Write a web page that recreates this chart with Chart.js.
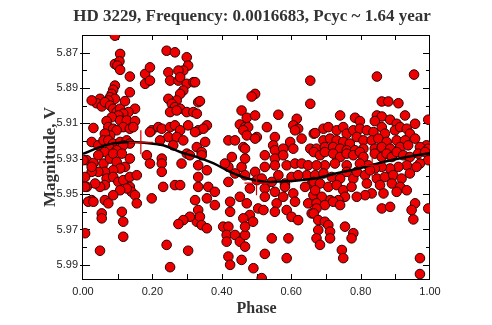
<!DOCTYPE html>
<html>
<head>
<meta charset="utf-8">
<script src="https://cdn.jsdelivr.net/npm/chart.js@4"></script>
<style>
  html, body { margin: 0; padding: 0; background: #fff; }
  #wrap { width: 492px; height: 325px; }
</style>
</head>
<body>
<div id="wrap"><canvas id="phaseChart"></canvas></div>
<script>
// V-band photometry folded on the cycle period, [phase, magnitude]
const observations = [
  [0.092,5.8604],[0.107,5.8707],[0.092,5.8764],[0.105,5.8749],[0.099,5.8773],[0.107,5.8797],[0.135,5.8835],
  [0.092,5.8886],[0.087,5.8910],[0.083,5.8933],[0.078,5.8952],[0.092,5.8961],[0.073,5.8970],[0.049,5.8961],
  [0.039,5.8986],[0.054,5.9004],[0.063,5.8980],[0.078,5.8999],[0.087,5.9017],[0.097,5.9036],[0.107,5.9017],
  [0.121,5.8974],[0.135,5.8924],[0.150,5.9017],[0.131,5.9036],[0.116,5.9045],[0.102,5.9055],[0.083,5.9065],
  [0.107,5.9083],[0.126,5.9083],[0.150,5.9087],[0.068,5.9087],[0.030,5.9126],[0.073,5.9121],[0.087,5.9130],
  [0.116,5.9121],[0.135,5.9130],[0.145,5.9121],[0.097,5.9139],[0.078,5.9168],[0.063,5.9158],[0.025,5.9205],
  [0.044,5.9224],[0.059,5.9196],[0.073,5.9196],[0.087,5.9214],[0.107,5.9205],[0.126,5.9196],[0.135,5.9214],
  [0.116,5.9224],[0.078,5.9243],[0.097,5.9252],[0.063,5.9262],[0.179,5.8820],[0.193,5.8783],[0.179,5.8876],
  [0.193,5.8858],[0.241,5.8689],[0.265,5.8698],[0.299,5.8726],[0.303,5.8773],[0.289,5.8801],[0.275,5.8801],
  [0.246,5.8811],[0.251,5.8858],[0.275,5.8858],[0.280,5.8839],[0.299,5.8876],[0.318,5.8867],[0.289,5.8914],
  [0.280,5.8933],[0.270,5.8970],[0.246,5.8961],[0.256,5.8989],[0.265,5.9008],[0.280,5.9017],[0.251,5.9036],
  [0.270,5.9027],[0.299,5.9036],[0.318,5.9036],[0.332,5.8980],[0.198,5.9139],[0.217,5.9121],[0.227,5.9130],
  [0.251,5.9121],[0.246,5.9177],[0.265,5.9111],[0.280,5.9139],[0.270,5.9177],[0.289,5.9196],[0.260,5.9224],
  [0.222,5.9196],[0.303,5.9111],[0.332,5.9139],[0.328,5.9234],[0.299,5.9271],[0.193,5.9149],[0.025,5.8970],
  [0.323,5.8867],[0.337,5.8974],[0.328,5.9045],[0.357,5.9111],[0.347,5.9130],[0.323,5.9149],[0.352,5.9205],
  [0.342,5.9262],[0.496,5.8933],[0.486,5.8948],[0.457,5.9027],[0.472,5.9068],[0.496,5.9055],[0.452,5.9106],
  [0.467,5.9121],[0.476,5.9121],[0.462,5.9139],[0.472,5.9168],[0.501,5.9177],[0.496,5.9186],[0.419,5.9196],
  [0.438,5.9196],[0.462,5.9234],[0.467,5.9243],[0.530,5.9121],[0.563,5.9051],[0.553,5.9177],[0.548,5.9224],
  [0.553,5.9252],[0.577,5.9243],[0.616,5.9074],[0.606,5.9111],[0.620,5.9130],[0.611,5.9139],[0.630,5.9186],
  [0.597,5.9205],[0.606,5.9243],[0.655,5.8858],[0.655,5.8989],[0.665,5.9158],[0.655,5.9243],
  [0.847,5.8835],[0.954,5.8824],[0.861,5.8976],[0.880,5.8976],[0.909,5.8986],[0.741,5.9055],[0.784,5.9068],
  [0.798,5.9087],[0.847,5.9055],[0.861,5.9061],[0.885,5.9079],[0.928,5.9055],[0.841,5.9087],[0.904,5.9102],
  [0.957,5.9102],[0.995,5.9079],[0.669,5.9155],[0.693,5.9130],[0.707,5.9121],[0.731,5.9139],[0.750,5.9121],
  [0.760,5.9158],[0.779,5.9139],[0.798,5.9130],[0.818,5.9139],[0.837,5.9149],[0.861,5.9121],[0.870,5.9158],
  [0.899,5.9139],[0.914,5.9121],[0.933,5.9130],[0.942,5.9158],[0.693,5.9196],[0.712,5.9186],[0.731,5.9196],
  [0.750,5.9205],[0.769,5.9214],[0.789,5.9177],[0.808,5.9196],[0.832,5.9196],[0.851,5.9186],[0.875,5.9205],
  [0.904,5.9196],[0.928,5.9196],[0.957,5.9186],[0.990,5.9224],[0.673,5.9243],[0.697,5.9234],[0.721,5.9234],
  [0.741,5.9243],[0.760,5.9252],[0.784,5.9252],[0.808,5.9243],[0.841,5.9243],[0.861,5.9234],[0.885,5.9243],
  [0.914,5.9234],[0.937,5.9224],[0.971,5.9234],[0.995,5.9243],
  [0.011,5.9308],[0.030,5.9324],[0.044,5.9280],[0.059,5.9327],[0.078,5.9299],[0.087,5.9271],[0.097,5.9318],
  [0.112,5.9271],[0.121,5.9346],[0.107,5.9355],[0.087,5.9365],[0.063,5.9374],[0.044,5.9374],[0.025,5.9374],
  [0.068,5.9412],[0.087,5.9403],[0.102,5.9431],[0.116,5.9421],[0.135,5.9403],[0.135,5.9459],[0.140,5.9487],
  [0.150,5.9506],[0.155,5.9552],[0.126,5.9468],[0.107,5.9478],[0.087,5.9506],[0.063,5.9449],[0.049,5.9459],
  [0.035,5.9440],[0.011,5.9459],[0.025,5.9534],[0.015,5.9543],[0.063,5.9534],[0.073,5.9552],[0.135,5.9299],
  [0.155,5.9393],[0.054,5.9609],[0.054,5.9637],[0.112,5.9600],[0.116,5.9656],[0.006,5.9721],[0.116,5.9741],
  [0.049,5.9820],[0.184,5.9280],[0.193,5.9327],[0.227,5.9299],[0.227,5.9327],[0.227,5.9374],[0.231,5.9459],
  [0.198,5.9524],[0.284,5.9327],[0.265,5.9449],[0.280,5.9449],[0.323,5.9534],[0.332,5.9590],[0.328,5.9656],
  [0.308,5.9628],[0.289,5.9647],[0.275,5.9669],[0.241,5.9787],[0.303,5.9820],[0.251,5.9913],[0.308,5.9280],
  [0.332,5.9337],[0.332,5.9403],[0.332,5.9459],[0.025,5.9346],[0.006,5.9403],[0.006,5.9459],[0.030,5.9543],
  [0.001,5.9308],
  [0.342,5.9280],[0.357,5.9365],[0.429,5.9290],[0.419,5.9346],[0.409,5.9327],[0.457,5.9346],[0.467,5.9299],
  [0.467,5.9393],[0.496,5.9374],[0.501,5.9421],[0.524,5.9280],[0.524,5.9346],[0.553,5.9299],[0.553,5.9337],
  [0.563,5.9393],[0.577,5.9280],[0.587,5.9337],[0.601,5.9403],[0.611,5.9327],[0.630,5.9327],[0.649,5.9337],
  [0.645,5.9393],[0.620,5.9393],[0.659,5.9440],[0.582,5.9440],[0.544,5.9431],[0.515,5.9412],[0.419,5.9431],
  [0.438,5.9383],[0.361,5.9459],[0.357,5.9524],[0.380,5.9487],[0.380,5.9562],[0.337,5.9628],[0.342,5.9675],
  [0.357,5.9693],[0.424,5.9543],[0.424,5.9600],[0.452,5.9515],[0.481,5.9468],[0.472,5.9552],[0.481,5.9618],
  [0.505,5.9581],[0.462,5.9637],[0.490,5.9656],[0.524,5.9468],[0.524,5.9515],[0.520,5.9590],[0.553,5.9487],
  [0.558,5.9552],[0.553,5.9600],[0.582,5.9459],[0.577,5.9515],[0.587,5.9590],[0.606,5.9496],[0.611,5.9543],
  [0.601,5.9628],[0.620,5.9647],[0.640,5.9459],[0.649,5.9552],[0.659,5.9609],[0.664,5.9506],[0.404,5.9684],
  [0.419,5.9684],[0.414,5.9731],[0.438,5.9731],[0.414,5.9769],[0.452,5.9769],[0.467,5.9731],[0.467,5.9684],
  [0.467,5.9797],[0.544,5.9750],[0.592,5.9750],[0.419,5.9853],[0.424,5.9900],[0.457,5.9872],[0.524,5.9838],
  [0.587,5.9862],[0.491,5.9919],[0.515,5.9975],
  [0.665,5.9262],[0.683,5.9280],[0.697,5.9262],[0.721,5.9271],[0.741,5.9290],[0.760,5.9271],[0.779,5.9280],
  [0.798,5.9262],[0.808,5.9290],[0.841,5.9271],[0.861,5.9290],[0.875,5.9271],[0.890,5.9290],[0.904,5.9262],
  [0.923,5.9280],[0.942,5.9290],[0.966,5.9271],[0.986,5.9262],[0.995,5.9308],[0.971,5.9327],[0.933,5.9337],
  [0.909,5.9346],[0.885,5.9355],[0.861,5.9346],[0.841,5.9355],[0.822,5.9337],[0.798,5.9327],[0.760,5.9337],
  [0.726,5.9327],[0.697,5.9337],[0.673,5.9337],[0.669,5.9393],[0.693,5.9383],[0.717,5.9403],[0.741,5.9412],
  [0.760,5.9374],[0.779,5.9412],[0.789,5.9374],[0.813,5.9393],[0.827,5.9365],[0.847,5.9412],[0.870,5.9403],
  [0.894,5.9393],[0.918,5.9412],[0.942,5.9383],[0.961,5.9346],[0.665,5.9431],[0.683,5.9440],[0.707,5.9459],
  [0.731,5.9449],[0.750,5.9478],[0.774,5.9459],[0.818,5.9440],[0.856,5.9449],[0.890,5.9440],[0.914,5.9459],
  [0.933,5.9478],[0.904,5.9487],[0.866,5.9496],[0.832,5.9496],[0.813,5.9506],[0.789,5.9515],[0.755,5.9515],
  [0.736,5.9534],[0.712,5.9534],[0.688,5.9515],[0.669,5.9478],[0.673,5.9552],[0.697,5.9562],[0.721,5.9543],
  [0.741,5.9562],[0.673,5.9581],[0.665,5.9609],[0.678,5.9647],[0.697,5.9656],[0.707,5.9675],[0.678,5.9703],
  [0.712,5.9712],[0.673,5.9750],[0.712,5.9750],[0.683,5.9787],[0.755,5.9684],[0.779,5.9721],[0.774,5.9750],
  [0.746,5.9816],[0.750,5.9862],[0.861,5.9581],[0.885,5.9572],[0.957,5.9552],[0.947,5.9590],[0.952,5.9643],
  [0.995,5.9581],[0.971,5.9862],[0.971,5.9952]
];

// sinusoidal fit to the folded light curve
const fitPhase = [0.000, 0.049, 0.086, 0.135, 0.184, 0.231, 0.280, 0.328, 0.375, 0.424,
                  0.472, 0.524, 0.582, 0.625, 0.673, 0.731, 0.798, 0.865, 0.933, 1.000];
const fitMag   = [5.9272, 5.9234, 5.9213, 5.9205, 5.9211, 5.9224, 5.9262, 5.9290, 5.9325, 5.9374,
                  5.9410, 5.9430, 5.9427, 5.9421, 5.9410, 5.9382, 5.9354, 5.9318, 5.9290, 5.9269];

// binned means
const binPhase = [0.1667, 0.5000, 0.8333];
const binMag   = [5.9207, 5.9438, 5.9337];

const MAG_MIN = 5.86;
const MAG_MAX = 5.998;

const serif = "'Liberation Serif', 'Times New Roman', serif";
const titleFont = { family: serif, size: 17, weight: 'bold' };
const axisTitleFont = { family: serif, size: 16, weight: 'bold' };
const tickFont = { family: "'Liberation Sans', Arial, sans-serif", size: 11 };

// frame around the plot with inward tick marks on all four sides
const frameTicks = {
    id: 'frameTicks',
    beforeDatasetsDraw(chart) {
        const { ctx, chartArea: a, scales: { x, y } } = chart;
        ctx.save();
        ctx.strokeStyle = '#000';
        ctx.lineWidth = 1;
        ctx.strokeRect(Math.round(a.left) - 0.5, Math.round(a.top) + 0.5,
                       Math.round(a.right - a.left), Math.round(a.bottom - a.top));
        ctx.beginPath();
        y.ticks.forEach(t => {
            const py = Math.round(y.getPixelForValue(t.value)) + 0.5;
            const major = Math.round(t.value * 100) % 2 === 1;
            const len = major ? 7 : 4;
            ctx.moveTo(a.left - (major ? 3 : 0), py);
            ctx.lineTo(a.left + len, py);
            ctx.moveTo(a.right, py);
            ctx.lineTo(a.right - len, py);
        });
        x.ticks.forEach(t => {
            if (t.value <= 0.001 || t.value >= 0.999) return;
            const px = Math.round(x.getPixelForValue(t.value)) + 0.5;
            ctx.moveTo(px, a.bottom);
            ctx.lineTo(px, a.bottom - 5);
            ctx.moveTo(px, a.top);
            ctx.lineTo(px, a.top + 5);
        });
        ctx.stroke();
        ctx.restore();
    }
};

new Chart(document.getElementById('phaseChart'), {
    type: 'scatter',
    data: {
        datasets: [
            {
                label: 'Bins',
                order: 0,
                data: binPhase.map((p, i) => ({ x: p, y: binMag[i] })),
                pointStyle: 'cross',
                pointRadius: 12,
                borderColor: '#d40000',
                borderWidth: 1.2
            },
            {
                label: 'Fit',
                order: 1,
                data: fitPhase.map((p, i) => ({ x: p, y: fitMag[i] })),
                showLine: true,
                tension: 0.4,
                borderColor: '#000',
                borderWidth: 2.5,
                pointRadius: 0
            },
            {
                label: 'V',
                order: 2,
                data: observations.map(o => ({ x: o[0], y: o[1] })),
                pointRadius: 4.8,
                backgroundColor: '#ee0000',
                borderColor: '#2a0000',
                borderWidth: 1
            }
        ]
    },
    options: {
        responsive: true,
        maintainAspectRatio: false,
        animation: false,
        events: [],
        layout: { padding: { left: 12, right: 0, top: 0, bottom: 0 } },
        plugins: {
            legend: { display: false },
            tooltip: { enabled: false },
            title: {
                display: true,
                text: 'HD 3229, Frequency: 0.0016683, Pcyc ~ 1.64 year',
                color: '#333',
                font: titleFont,
                padding: { top: 6, bottom: 8.6 }
            }
        },
        scales: {
            x: {
                type: 'linear',
                min: 0,
                max: 1,
                grid: { display: false, drawTicks: false },
                border: { display: false },
                ticks: {
                    stepSize: 0.1,
                    autoSkip: false,
                    maxRotation: 0,
                    includeBounds: false,
                    padding: 6,
                    color: '#222',
                    font: tickFont,
                    callback: v => Math.round(v * 10) % 2 === 0 ? v.toFixed(2) : ''
                },
                title: { display: true, text: 'Phase', color: '#333', font: axisTitleFont, padding: { top: 0, bottom: 7 } },
                afterFit: s => { s.height = 46; }
            },
            y: {
                type: 'linear',
                reverse: true,
                min: MAG_MIN,
                max: MAG_MAX,
                grid: { display: false, drawTicks: false },
                border: { display: false },
                ticks: {
                    stepSize: 0.01,
                    autoSkip: false,
                    includeBounds: false,
                    padding: 5,
                    color: '#222',
                    font: tickFont,
                    callback: v => Math.round(v * 100) % 2 === 1 ? v.toFixed(2) : ''
                },
                title: { display: true, text: 'Magnitude, V', color: '#333', font: { family: serif, size: 17, weight: 'bold' }, padding: { top: 28, bottom: 0 } },
                afterFit: s => { s.width = 71; }
            },
            yRight: {
                type: 'linear',
                position: 'right',
                display: true,
                grid: { display: false, drawTicks: false },
                border: { display: false },
                ticks: { display: false },
                afterFit: s => { s.width = 62; }
            }
        }
    },
    plugins: [frameTicks]
});
</script>
</body>
</html>
